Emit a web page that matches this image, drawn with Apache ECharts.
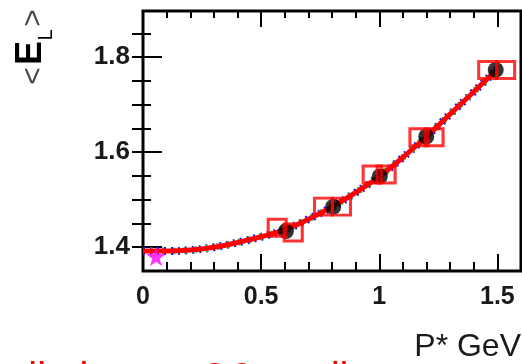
<!DOCTYPE html>
<html>
<head>
<meta charset="utf-8">
<script src="https://cdn.jsdelivr.net/npm/echarts@6/dist/echarts.min.js"></script>
<style>
  html, body { margin: 0; padding: 0; background: #fff; }
  #chart { width: 522px; height: 364px; }
</style>
</head>
<body>
<div id="chart"></div>
<script>
// Mean energy <E_L> versus P* (GeV)
const momentum = [0.605, 0.805, 1.002, 1.199, 1.493];
const meanEnergy = [1.434, 1.485, 1.549, 1.633, 1.773];
const meanEnergyErr = [0.010, 0.008, 0.013, 0.008, 0.007];

// Open red squares, two per bin
const squaresLeftX = [0.568, 0.764, 0.970, 1.168, 1.459];
const squaresLeftY = [1.441, 1.4855, 1.553, 1.6315, 1.773];
const squaresRightX = [0.636, 0.840, 1.029, 1.232, 1.535];
const squaresRightY = [1.431, 1.4855, 1.553, 1.6315, 1.773];

// Fitted curve
const curveX = [0, 0.1, 0.2, 0.3, 0.4, 0.5, 0.6, 0.7, 0.8, 0.9, 1.0, 1.1, 1.2, 1.3, 1.4, 1.49];
const curveY = [1.392, 1.392, 1.394, 1.400, 1.410, 1.422, 1.437, 1.459, 1.485, 1.515, 1.549, 1.589, 1.633, 1.680, 1.727, 1.770];

// Reference point at low momentum
const starX = [0.055];
const starY = [1.381];

// Tick positions and labels
const xMajorTicks = [0, 0.5, 1, 1.5];
const xMinorTicks = [0.1, 0.2, 0.3, 0.4, 0.6, 0.7, 0.8, 0.9, 1.1, 1.2, 1.3, 1.4];
const xTickLabels = ['0', '0.5', '1', '1.5'];
const yMajorTicks = [1.4, 1.6, 1.8];
const yMinorTicks = [1.45, 1.5, 1.55, 1.65, 1.7, 1.75, 1.85];
const yTickLabels = ['1.4', '1.6', '1.8'];
const yRightTicks = [1.4, 1.45, 1.5, 1.55, 1.6, 1.65, 1.7, 1.75, 1.8, 1.85];

const xMin = 0, xMax = 1.6, yMin = 1.35, yMax = 1.897;

const FONT = 'Liberation Sans, Arial, sans-serif';
const pairs = (xs, ys) => xs.map((x, i) => [x, ys[i]]);

function xAxisDef(pos, ticks, len, labels) {
  return {
    type: 'value', gridIndex: 0, position: pos, min: xMin, max: xMax,
    axisLine: { show: false }, splitLine: { show: false },
    axisTick: { show: true, inside: true, length: len, customValues: ticks,
                lineStyle: { color: '#000', width: 2 } },
    axisLabel: labels ? {
      show: true, customValues: xMajorTicks, margin: 14,
      fontFamily: FONT, fontSize: 25, fontWeight: 'bold', color: '#1a1a1a',
      formatter: v => xTickLabels[xMajorTicks.findIndex(t => Math.abs(t - v) < 1e-6)] || ''
    } : { show: false }
  };
}
function yAxisDef(pos, ticks, len, labels) {
  return {
    type: 'value', gridIndex: 0, position: pos, min: yMin, max: yMax,
    axisLine: { show: false }, splitLine: { show: false },
    axisTick: { show: true, inside: true, length: len, customValues: ticks,
                lineStyle: { color: '#000', width: 2 } },
    axisLabel: labels ? {
      show: true, customValues: yMajorTicks, margin: 13,
      fontFamily: FONT, fontSize: 26, fontWeight: 'bold', color: '#1a1a1a',
      formatter: v => yTickLabels[yMajorTicks.findIndex(t => Math.abs(t - v) < 1e-6)] || ''
    } : { show: false }
  };
}

const chart = echarts.init(document.getElementById('chart'), null, { renderer: 'canvas' });

const starPath = 'path://M50,0 L61,35 L98,35 L68,57 L79,91 L50,70 L21,91 L32,57 L2,35 L39,35 Z';

chart.setOption({
  animation: false,
  backgroundColor: '#fff',
  grid: { left: 143, top: 11, width: 378, height: 260, show: true,
          borderColor: '#000', borderWidth: 3, backgroundColor: 'transparent' },
  xAxis: [
    xAxisDef('bottom', xMajorTicks, 17, true),
    xAxisDef('bottom', xMinorTicks, 9, false),
    xAxisDef('top', [0.5, 1, 1.5], 16, false),
    xAxisDef('top', xMinorTicks, 7, false)
  ],
  yAxis: [
    yAxisDef('left', yMajorTicks, 19, true),
    yAxisDef('left', yMinorTicks, 8, false),
    yAxisDef('right', yRightTicks, 11, false)
  ],
  series: [
    {
      type: 'line', data: pairs(curveX, curveY), smooth: true, symbol: 'none',
      lineStyle: { color: '#1a1aff', width: 8, type: [2, 5] }, z: 2
    },
    {
      type: 'line', data: pairs(curveX, curveY), smooth: true, symbol: 'none',
      lineStyle: { color: '#22cc22', width: 7, type: [2, 9], dashOffset: 3 }, z: 2
    },
    {
      type: 'line', data: pairs(curveX, curveY), smooth: true, symbol: 'none',
      lineStyle: { color: '#ff0000', width: 5 }, z: 3
    },
    {
      type: 'custom', z: 4,
      data: momentum.map((x, i) => [x, meanEnergy[i] - meanEnergyErr[i], meanEnergy[i] + meanEnergyErr[i]]),
      renderItem: (params, api) => {
        const p1 = api.coord([api.value(0), api.value(1)]);
        const p2 = api.coord([api.value(0), api.value(2)]);
        return { type: 'line', shape: { x1: p1[0], y1: p1[1], x2: p2[0], y2: p2[1] },
                 style: { stroke: '#000', lineWidth: 4 } };
      }
    },
    {
      type: 'scatter', data: pairs(momentum, meanEnergy), symbol: 'circle', symbolSize: 16,
      itemStyle: { color: '#000' }, z: 5
    },
    {
      type: 'scatter', data: pairs(squaresLeftX, squaresLeftY), symbol: 'rect', symbolSize: [18, 17],
      itemStyle: { color: 'transparent', borderColor: '#ff0000', borderWidth: 3 }, z: 6
    },
    {
      type: 'scatter', data: pairs(squaresRightX, squaresRightY), symbol: 'rect', symbolSize: [18, 17],
      itemStyle: { color: 'transparent', borderColor: '#ff0000', borderWidth: 3 }, z: 6
    },
    {
      type: 'scatter', data: pairs(starX, starY), symbol: starPath, symbolSize: 20,
      itemStyle: { color: '#ff00ff' }, z: 7
    }
  ],
  graphic: [
    {
      type: 'group', x: 34, y: 76, rotation: Math.PI / 2,
      children: [
        { type: 'text', x: 0, y: 0, style: { text: '<', fontSize: 30, fontFamily: FONT, fill: '#444', align: 'center', verticalAlign: 'middle' } },
        { type: 'text', x: 23, y: -3, style: { text: 'E', fontSize: 36, fontWeight: 'bold', fontFamily: FONT, fill: '#000', align: 'center', verticalAlign: 'middle' } },
        { type: 'text', x: 41, y: 12, style: { text: 'L', fontSize: 20, fontFamily: FONT, fill: '#000', align: 'center', verticalAlign: 'middle' } },
        { type: 'text', x: 58, y: 0, style: { text: '>', fontSize: 30, fontFamily: FONT, fill: '#444', align: 'center', verticalAlign: 'middle' } }
      ]
    },
    {
      type: 'text', x: 521, y: 347,
      style: { text: 'P* GeV', fontSize: 32, fontFamily: FONT, fill: '#1a1a1a', align: 'right', verticalAlign: 'middle' }
    },
    {
      type: 'text', x: -5, y: 380,
      style: { text: 'a limit over Q2 at all', fontSize: 40, fontFamily: FONT, fill: '#ff0000', align: 'left', verticalAlign: 'middle' }
    }
  ]
});
</script>
</body>
</html>
